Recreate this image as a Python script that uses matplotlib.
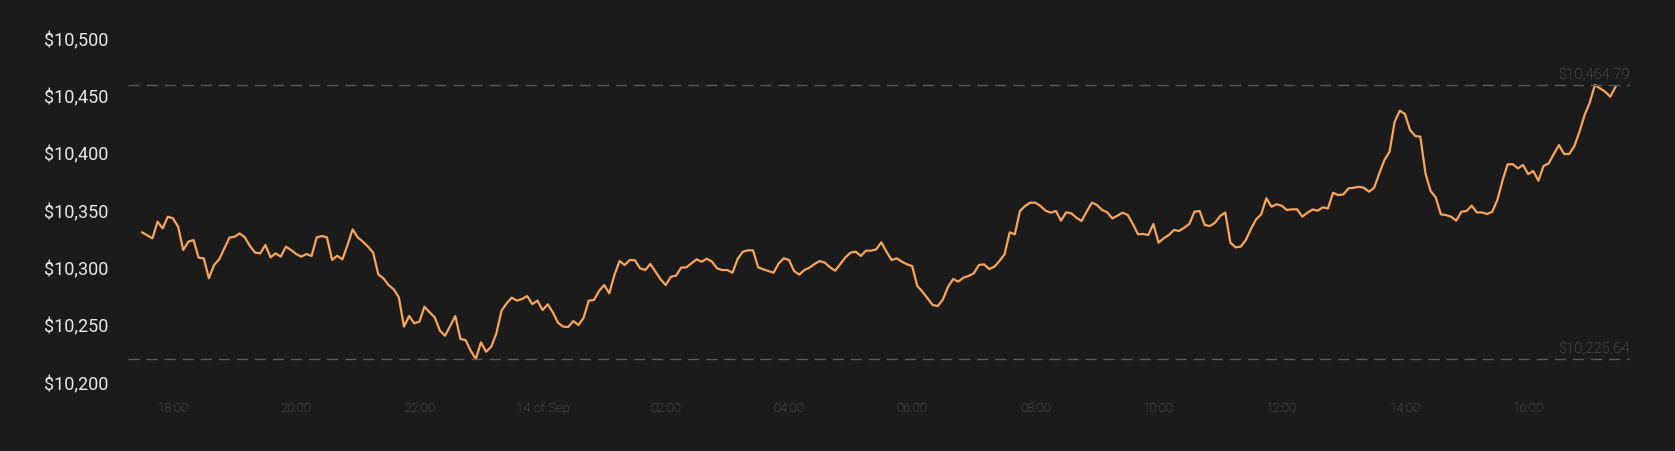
import matplotlib
matplotlib.use("Agg")
import matplotlib.pyplot as plt
from matplotlib.transforms import ScaledTranslation
import pandas as pd

plt.rcParams['font.family'] = ['Roboto', 'DejaVu Sans']

# 5-minute BTC price, 13 Sep 17:30 -> 14 Sep 17:25
start = "2019-09-13 17:30"
price_evening = [
    10336.2, 10333.6, 10331.0, 10345.5, 10339.7, 10349.9, 10348.4, 10341.2, 10320.8, 10328.1,
    10329.5, 10314.1, 10313.5, 10296.1, 10307.7, 10312.6, 10322.2, 10331.6, 10332.4, 10335.3,
    10331.8, 10324.3, 10318.5, 10317.9, 10325.2, 10314.4, 10317.9, 10315.0, 10323.7, 10320.8,
    10317.3, 10315.0, 10317.3, 10315.6, 10331.8, 10333.0, 10331.8, 10312.1, 10315.8, 10312.6,
    10325.2, 10338.8, 10331.8, 10328.1, 10323.7, 10318.5, 10299.5, 10296.1, 10290.2, 10286.5,
    10279.5, 10253.9, 10263.2, 10256.8, 10258.2, 10271.3, 10266.4, 10262.0, 10250.4, 10246.0,
    10254.4, 10263.2, 10243.1, 10242.2, 10232.9, 10225.64, 10240.2, 10232.0, 10236.4, 10248.0,
    10267.8, 10274.2, 10279.2, 10276.6, 10278.0,
]
price_night = [
    10280.6, 10273.6, 10276.6, 10268.4, 10273.4, 10266.4, 10257.4, 10253.9, 10253.6, 10258.8,
    10255.3, 10261.7, 10276.6, 10277.1, 10285.0, 10290.2, 10283.0, 10299.0, 10311.2, 10307.7,
    10312.1, 10311.8, 10304.8, 10303.3, 10308.6, 10301.9, 10295.2, 10290.2, 10297.5, 10298.4,
    10305.4, 10305.7, 10309.1, 10312.6, 10310.6, 10313.2, 10310.6, 10304.8, 10303.3, 10303.3,
    10301.0, 10312.9, 10319.3, 10320.5, 10320.5, 10305.7, 10303.9, 10302.5, 10301.0, 10309.1,
    10313.5, 10312.1, 10302.5, 10299.3, 10303.3, 10305.4, 10308.6, 10311.2, 10309.7, 10305.7,
    10302.7, 10308.6, 10314.4, 10318.5, 10319.3, 10315.6, 10320.2, 10320.2, 10321.4, 10327.5,
    10319.3, 10312.1, 10313.5, 10310.6, 10308.3, 10306.8, 10289.4, 10284.4, 10278.6, 10272.8,
    10271.9,
]
price_morning = [
    10277.7, 10288.8, 10295.5, 10293.2, 10296.7, 10298.1, 10300.4, 10307.7, 10308.3, 10304.2,
    10306.2, 10311.2, 10317.0, 10336.2, 10334.5, 10354.8, 10359.2, 10362.1, 10362.1, 10359.2,
    10355.1, 10353.4, 10354.8, 10346.4, 10353.7, 10352.8, 10349.0, 10346.1, 10354.3, 10362.1,
    10360.1, 10355.7, 10353.7, 10348.4, 10350.8, 10353.4, 10351.4, 10343.5, 10334.5, 10334.8,
    10333.9, 10343.5, 10327.2, 10331.0, 10333.9, 10338.3, 10337.4, 10340.3, 10343.5, 10354.3,
    10354.8, 10342.6, 10341.7, 10344.6, 10350.5, 10353.4, 10327.2, 10323.1, 10323.7, 10329.5,
    10339.1, 10347.5, 10351.9, 10365.9, 10358.6, 10360.7, 10359.5, 10355.7, 10356.3, 10356.3,
    10349.9,
]
price_afternoon = [
    10353.3, 10356.2, 10355.1, 10358.0, 10357.1, 10370.8, 10368.7, 10369.3, 10374.6, 10375.1,
    10376.0, 10375.1, 10371.7, 10375.1, 10387.7, 10399.3, 10406.6, 10432.8, 10442.4, 10439.5,
    10425.5, 10420.3, 10419.7, 10387.7, 10372.3, 10366.7, 10351.9, 10351.3, 10349.8, 10346.4,
    10354.2, 10354.8, 10359.5, 10353.6, 10353.6, 10352.2, 10354.2, 10364.4, 10381.3, 10395.5,
    10395.8, 10392.0, 10395.0, 10387.1, 10389.7, 10381.3, 10394.1, 10396.4, 10404.6, 10412.4,
    10404.6, 10404.6, 10411.5, 10424.0, 10438.6, 10449.4, 10464.79, 10461.9, 10459.0, 10454.6,
    10463.0,
]
price = price_evening + price_night + price_morning + price_afternoon
times = pd.date_range(start, periods=len(price), freq="5min")

y_ticks = [10200, 10250, 10300, 10350, 10400, 10450, 10500]
x_ticks = ["2019-09-13 18:00", "2019-09-13 20:00", "2019-09-13 22:00", "2019-09-14 00:00",
           "2019-09-14 02:00", "2019-09-14 04:00", "2019-09-14 06:00", "2019-09-14 08:00",
           "2019-09-14 10:00", "2019-09-14 12:00", "2019-09-14 14:00", "2019-09-14 16:00"]
x_labels = ["18:00", "20:00", "22:00", "14 of Sep", "02:00", "04:00", "06:00",
            "08:00", "10:00", "12:00", "14:00", "16:00"]

bg = '#1c1b1c'
fig = plt.figure(figsize=(16.75, 4.51), dpi=100, facecolor=bg)
ax = fig.add_axes([0.0764, 0.1388, 0.8967, 0.7621], facecolor=bg)

ax.plot(times, price, color='#f6a55b', lw=1.6, solid_joinstyle='round')

# min / max reference lines with their value
lo, hi = min(price), max(price)
up = ScaledTranslation(0, 0.03, fig.dpi_scale_trans)
for v in (lo, hi):
    ax.axhline(v, color='#5a5a5a', lw=1.0, ls=(0, (8, 5)))
    ax.text(1.0, v, f"${v:,.2f}", transform=ax.get_yaxis_transform() + up,
            ha='right', va='bottom', color='#686868', fontsize=10.8,
            fontweight='light')

ax.set_ylim(10200, 10500)
ax.set_xlim(pd.Timestamp("2019-09-13 17:16:10"), pd.Timestamp("2019-09-14 17:39:10"))

ax.set_yticks(y_ticks)
ax.set_yticklabels([f"${t:,}" for t in y_ticks])
ax.set_xticks(pd.to_datetime(x_ticks))
ax.set_xticklabels(x_labels)

ax.tick_params(axis='y', length=0, pad=14, labelsize=13, labelcolor='#e8e8e8')
ax.tick_params(axis='x', length=0, pad=10, labelsize=9.5, labelcolor='#6a6a6a')
for lab in ax.get_xticklabels():
    lab.set_fontweight('light')
# labels sit a little above their value line
shift = ScaledTranslation(0, 0.055, fig.dpi_scale_trans)
for lab in ax.get_yticklabels():
    lab.set_transform(lab.get_transform() + shift)

for s in ax.spines.values():
    s.set_visible(False)

fig.savefig("out.png", dpi=100, facecolor=bg)
